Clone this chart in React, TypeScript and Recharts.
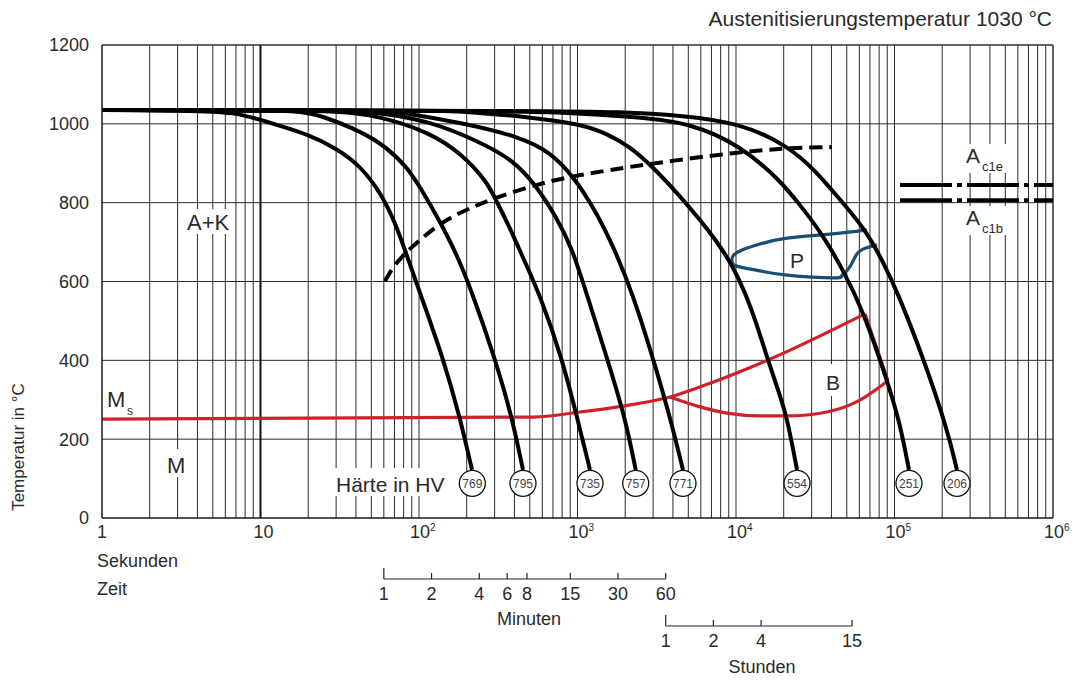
import React from 'react';
import { ComposedChart, Line, Scatter, XAxis, YAxis, CartesianGrid, ReferenceLine } from 'recharts';

const FONT = '"Liberation Sans", Arial, Helvetica, sans-serif';
const TXT = '#2a2a2a';
const RED = '#d2202a';
const BLUE = '#174f74';

// ---- axes ----
const DECADE_STARTS = [1, 10, 100, 1000, 10000, 100000];
const MULTIPLIERS = [1, 2, 3, 4, 5, 6, 7, 8, 9];
const X_TICKS: number[] = [];
DECADE_STARTS.forEach((d) => MULTIPLIERS.forEach((m) => X_TICKS.push(m * d)));
X_TICKS.push(1000000);
const Y_TICKS = [0, 200, 400, 600, 800, 1000, 1200];
const MINUTE_TICKS = [1, 2, 4, 6, 8, 15, 30, 60];
const HOUR_TICKS = [1, 2, 4, 15];
const MINUTE_BAR_T = -154.8; // level of the minute scale bar under the plot
const HOUR_BAR_T = -274.0; // level of the hour scale bar under the plot

// ---- cooling curves [time s, temperature °C] ----
const C_769: number[][] = [[1, 1035], [3.5, 1034], [6.9, 1030], [11, 1005], [20.5, 972], [29.5, 939], [40.6, 901], [54.3, 840], [68.5, 764], [81.6, 680], [101, 573], [142, 406], [181, 256], [216, 122]];
const C_795: number[][] = [[1, 1035], [8, 1034], [17.8, 1033], [23.7, 1022], [44.3, 979], [62.8, 939], [84, 891], [106, 827], [136, 751], [174, 667], [216, 573], [301, 406], [386, 256], [453, 122]];
const C_735: number[][] = [[1, 1035], [15, 1034], [30, 1032], [54, 1022], [117, 979], [190, 921], [269, 852], [301, 812], [375, 736], [453, 660], [580, 566], [798, 406], [993, 256], [1199, 122]];
const C_757: number[][] = [[1, 1035], [20, 1034], [40, 1032], [56.8, 1028], [117, 1007], [243, 954], [392, 908], [540, 847], [743, 761], [923, 685], [1148, 566], [1535, 406], [1994, 256], [2330, 122]];
const C_771: number[][] = [[1, 1035], [30, 1034], [60, 1033], [75.9, 1030], [190, 1002], [434, 967], [670, 929], [937, 868], [1290, 782], [1725, 680], [2240, 566], [2994, 406], [3835, 256], [4630, 122]];
const C_554: number[][] = [[1, 1035], [80, 1034], [150, 1033], [210, 1030], [502, 1017], [1037, 1000], [1603, 972], [2143, 941], [2866, 898], [4431, 817], [5930, 756], [7690, 698], [9440, 642], [11400, 573], [13560, 490], [15700, 408], [18400, 325], [20990, 256], [24270, 122]];
const C_251: number[][] = [[1, 1035], [300, 1033], [776, 1030], [2478, 1017], [5126, 1002], [10590, 946], [18960, 857], [25350, 794], [35390, 718], [47330, 629], [63270, 527], [89700, 350], [108300, 241], [123400, 122]];
const C_206: number[][] = [[1, 1035], [700, 1033], [1854, 1030], [4431, 1022], [10590, 1002], [20990, 946], [31500, 883], [47300, 799], [67000, 726], [84500, 650], [103700, 576], [151400, 408], [214400, 228], [247900, 122]];
const CURVES = [C_769, C_795, C_735, C_757, C_771, C_554, C_251, C_206];

// carbide precipitation (dashed)
const DASHED: number[][] = [[61, 601], [67.6, 634], [81.6, 672], [101, 705], [136, 748], [195, 781], [301, 812], [555, 847], [937, 868], [2744, 898], [10590, 929], [21900, 939], [40330, 941]];

// pearlite field
const P_FIELD: number[][] = [[67000, 731], [39180, 720], [20990, 710], [14160, 695], [10920, 680], [9573, 665], [9440, 652], [10140, 639], [14160, 627], [20990, 616], [40930, 609], [46640, 616], [51640, 634], [57980, 670], [66070, 685], [77580, 693]];

// Ms line and bainite field
const MS_UPPER: number[][] = [[1, 251], [524, 256], [1037, 269], [1936, 284], [3835, 307], [6855, 342], [15920, 401], [65150, 518]];
const B_RIGHT: number[][] = [[65150, 518], [90970, 348]];
const B_LOWER: number[][] = [[3835, 307], [5930, 282], [8770, 266], [14160, 259], [20990, 259], [37500, 269], [60530, 299], [90970, 348]];

// Ac1e / Ac1b
const AC1E: number[][] = [[108300, 845], [1000000, 845]];
const AC1B: number[][] = [[108300, 806], [1000000, 806]];

// hardness
const HV_TIMES = [217, 453, 1199, 2330, 4630, 24270, 123400, 247900];
const HV_VALUES = [769, 795, 735, 757, 771, 554, 251, 206];
const HV_T = 88;

const toPts = (arr: number[][]) => arr.map(([t, T]) => ({ t, T }));
const HV_PTS = HV_TIMES.map((t, i) => ({ t, T: HV_T, hv: HV_VALUES[i] }));

const DecadeTick = (p: any) => {
  const { x, y, payload } = p;
  const v = payload.value;
  const e = Math.round(Math.log10(v));
  if (Math.abs(v - Math.pow(10, e)) > 1e-6) return <g />;
  const base = y + 20;
  const common = { fontSize: 18, fill: TXT, fontFamily: FONT } as any;
  if (e === 0) return <text x={x} y={base} textAnchor="middle" {...common}>1</text>;
  if (e === 1) return <text x={x + 3} y={base} textAnchor="middle" {...common}>10</text>;
  return (
    <g>
      <text x={x + 1} y={base} textAnchor="middle" {...common}>10</text>
      <text x={x + 11} y={base - 7} fontSize={10} fill={TXT} fontFamily={FONT}>{e}</text>
    </g>
  );
};

const makeScaleTick = (unit: number, first: number) => (p: any) => {
  const { x, y, payload } = p;
  const n = Math.round(payload.value / unit);
  const tall = n === first;
  return (
    <g>
      <line x1={x} x2={x} y1={y} y2={y - (tall ? 11 : 6)} stroke="#222" strokeWidth={1.2} />
      <text x={x} y={y + 21} textAnchor="middle" fontSize={18} fill={TXT} fontFamily={FONT}>{n}</text>
    </g>
  );
};
const MinuteTick = makeScaleTick(60, MINUTE_TICKS[0]);
const HourTick = makeScaleTick(3600, HOUR_TICKS[0]);

const HvShape = (p: any) => {
  const { cx, cy, payload } = p;
  return (
    <g>
      <circle cx={cx} cy={cy} r={13} fill="#fff" stroke="#111" strokeWidth={1.3} />
      <text x={cx} y={cy + 4.5} textAnchor="middle" fontSize={12} fill="#444" fontFamily={FONT}>{payload.hv}</text>
    </g>
  );
};

export default function App() {
  return (
    <div style={{ position: 'absolute', left: 0, top: 0, width: 1078, height: 680, background: '#fff' }}>
      <ComposedChart width={1078} height={680} margin={{ top: 45, right: 25, bottom: 0, left: 0 }}>
        <CartesianGrid stroke="#2a2a2a" strokeWidth={1} />
        <XAxis dataKey="t" type="number" scale="log" domain={[1, 1000000]} allowDataOverflow ticks={X_TICKS} interval={0}
          tickLine={false} tickSize={0} tickMargin={0} height={61} tick={DecadeTick} axisLine={{ stroke: '#111', strokeWidth: 1.2 }} />
        <XAxis xAxisId="s2hours" dataKey="t" type="number" scale="log" domain={[1, 1000000]} allowDataOverflow
          ticks={HOUR_TICKS.map((h) => h * 3600)} interval={0} tickLine={false} tickSize={0} tickMargin={0} height={54}
          axisLine={false} tick={HourTick} />
        <XAxis xAxisId="s1minutes" dataKey="t" type="number" scale="log" domain={[1, 1000000]} allowDataOverflow
          ticks={MINUTE_TICKS.map((m) => m * 60)} interval={0} tickLine={false} tickSize={0} tickMargin={0} height={47}
          axisLine={false} tick={MinuteTick} />
        <YAxis dataKey="T" type="number" domain={[0, 1200]} ticks={Y_TICKS} interval={0} width={102} tickLine={false}
          tickMargin={7} axisLine={{ stroke: '#111' }} tick={{ fontSize: 18, fill: TXT, fontFamily: FONT }} />
        <ReferenceLine x={10} stroke="#111" strokeWidth={2} />
        <ReferenceLine x={1000000} stroke="#333" />
        <ReferenceLine y={1200} stroke="#333" />
        <ReferenceLine segment={[{ x: MINUTE_TICKS[0] * 60, y: MINUTE_BAR_T }, { x: MINUTE_TICKS[MINUTE_TICKS.length - 1] * 60, y: MINUTE_BAR_T }]}
          stroke="#222" strokeWidth={1.2} ifOverflow="visible" />
        <ReferenceLine segment={[{ x: HOUR_TICKS[0] * 3600, y: HOUR_BAR_T }, { x: HOUR_TICKS[HOUR_TICKS.length - 1] * 3600, y: HOUR_BAR_T }]}
          stroke="#222" strokeWidth={1.2} ifOverflow="visible" />

        <Line data={toPts(AC1E)} dataKey="T" type="linear" stroke="#000" strokeWidth={4} strokeDasharray="52 5 5 5" dot={false} isAnimationActive={false} />
        <Line data={toPts(AC1B)} dataKey="T" type="linear" stroke="#000" strokeWidth={4} strokeDasharray="52 5 5 5" dot={false} isAnimationActive={false} />

        <Line data={toPts(MS_UPPER)} dataKey="T" type="monotone" stroke={RED} strokeWidth={3.2} dot={false} isAnimationActive={false} />
        <Line data={toPts(B_RIGHT)} dataKey="T" type="linear" stroke={RED} strokeWidth={3.2} dot={false} isAnimationActive={false} />
        <Line data={toPts(B_LOWER)} dataKey="T" type="monotone" stroke={RED} strokeWidth={3.2} dot={false} isAnimationActive={false} />
        <Line data={toPts(P_FIELD)} dataKey="T" type="natural" stroke={BLUE} strokeWidth={3.2} dot={false} isAnimationActive={false} />

        {CURVES.map((c, i) => (
          <Line key={i} data={toPts(c)} dataKey="T" type="basis" stroke="#000" strokeWidth={4} dot={false} isAnimationActive={false} />
        ))}
        <Line data={toPts(DASHED)} dataKey="T" type="basis" stroke="#000" strokeWidth={4} strokeDasharray="13 7" dot={false} isAnimationActive={false} />
        <Scatter data={HV_PTS} dataKey="T" shape={HvShape} isAnimationActive={false} />
      </ComposedChart>

      <svg width={1078} height={680} style={{ position: 'absolute', left: 0, top: 0, pointerEvents: 'none' }} fontFamily={FONT} fill={TXT}>
        <text x={1052} y={26} textAnchor="end" fontSize={21}>Austenitisierungstemperatur 1030 °C</text>
        <text transform="translate(24,447) rotate(-90)" textAnchor="middle" fontSize={17}>Temperatur in °C</text>
        <text x={97} y={567} fontSize={18}>Sekunden</text>
        <text x={97} y={595} fontSize={18}>Zeit</text>
        <text x={529} y={625} textAnchor="middle" fontSize={18}>Minuten</text>
        <text x={762} y={673} textAnchor="middle" fontSize={18}>Stunden</text>

        <rect x={185} y={209} width={50} height={25} fill="#fff" />
        <text x={187} y={230} fontSize={22}>A+K</text>
        <rect x={165} y={449} width={24} height={28} fill="#fff" />
        <text x={167} y={473} fontSize={22}>M</text>
        <text x={107} y={407} fontSize={22}>M</text>
        <text x={127} y={415} fontSize={12}>s</text>
        <rect x={333} y={468} width={118} height={28} fill="#fff" />
        <text x={336} y={492} fontSize={21}>Härte in HV</text>
        <text x={790} y={268} fontSize={21}>P</text>
        <rect x={824} y={364} width={22} height={32} fill="#fff" />
        <text x={826} y={390} fontSize={21}>B</text>
        <rect x={964} y={144} width={42} height={29} fill="#fff" />
        <text x={966} y={163} fontSize={21}>A</text>
        <text x={982} y={171} fontSize={13}>c1e</text>
        <rect x={964} y={206} width={42} height={29} fill="#fff" />
        <text x={966} y={225} fontSize={21}>A</text>
        <text x={982} y={233} fontSize={13}>c1b</text>
      </svg>
    </div>
  );
}
